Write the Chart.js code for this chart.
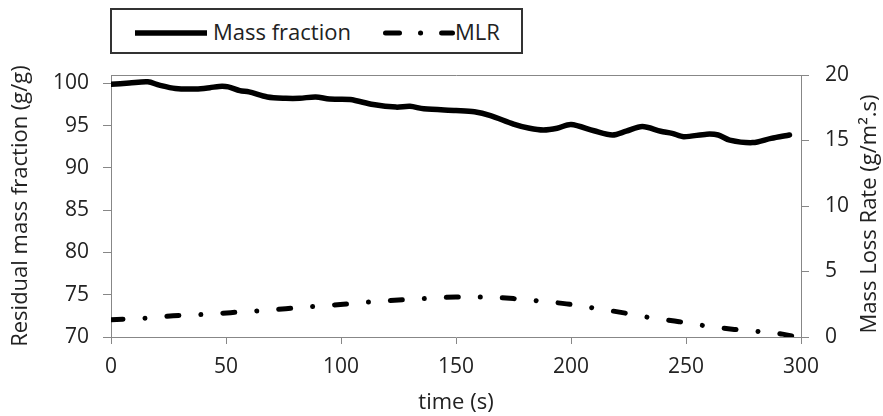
<!DOCTYPE html>
<html lang="en">
<head>
    <meta charset="UTF-8">
    <title>Mass fraction and MLR</title>
    <script src="https://cdn.jsdelivr.net/npm/chart.js"></script>
    <style>
        body { margin: 0; background: #fff; }
        .wrap { position: relative; width: 883px; height: 416px; }
        .legend {
            position: absolute; left: 110px; top: 8px; width: 413px; height: 46px;
            box-sizing: border-box; border: 2px solid #333; background: #fff;
            font-family: 'Open Sans', sans-serif; font-size: 22px; color: #222;
        }
        .legend svg, .legend span { position: absolute; }
        .legend span { top: 6px; line-height: 30px; }
    </style>
</head>
<body>
<div class="wrap">
    <canvas id="myChart"></canvas>
    <div class="legend">
        <svg style="left:23px; top:18px" width="72" height="10">
            <line x1="0" y1="5" x2="72" y2="5" stroke="#000" stroke-width="5.5"/>
        </svg>
        <span style="left:101px">Mass fraction</span>
        <svg style="left:271px; top:18px" width="72" height="10">
            <line x1="2.5" y1="5" x2="69.5" y2="5" stroke="#000" stroke-width="5"
                  stroke-linecap="round" stroke-dasharray="14 21 0.1 21"/>
        </svg>
        <span style="left:343px">MLR</span>
    </div>
</div>

<script>
// time (s) and residual mass fraction (g/g)
const massTime = [0, 8, 16, 21, 28, 37, 43, 47, 51, 56, 60, 68, 76, 82, 89, 95, 104, 114, 124, 130,
    136, 150, 158, 165, 175, 182, 188, 194, 200, 210, 218, 224, 231, 239, 244, 249, 259, 264, 269, 279,
    287, 295];
const massFrac = [99.9, 100.05, 100.2, 99.8, 99.4, 99.35, 99.5, 99.65, 99.6, 99.15, 99.0, 98.4, 98.25, 98.25, 98.4, 98.15, 98.1, 97.5, 97.2, 97.3,
    97.0, 96.8, 96.65, 96.2, 95.2, 94.7, 94.5, 94.7, 95.15, 94.4, 93.9, 94.35, 94.9, 94.35, 94.1, 93.7, 94.0, 93.9, 93.3, 93.0,
    93.5, 93.9];

// time (s) and mass loss rate (g/m2.s)
const mlrTime = [0, 15, 27, 40, 52, 64, 76, 88, 101, 113, 125, 138, 150, 162, 175, 186, 198, 211, 223, 235, 247, 259, 271, 283, 292, 298];
const mlrRate = [1.32, 1.44, 1.62, 1.72, 1.86, 2.0, 2.16, 2.33, 2.5, 2.68, 2.82, 2.95, 3.05, 3.05, 2.93, 2.75, 2.53, 2.18, 1.84, 1.46, 1.17, 0.84, 0.58, 0.4, 0.22, 0.0];

const xTicks = [0, 50, 100, 150, 200, 250, 300];
const leftTicks = [70, 75, 80, 85, 90, 95, 100];
const rightTicks = [0, 5, 10, 15, 20];

const rightTitleText = 'Mass Loss Rate (g/m\u00b2.s)';

const axisColor = '#878787';
const textColor = '#222';
const tickFont = { family: 'Open Sans', size: 21 };
const titleFont = { family: 'Open Sans', size: 22 };

// right axis title reads bottom to top like the left one
const rightTitle = {
    id: 'rightTitle',
    afterDraw(chart) {
        const ctx = chart.ctx;
        const s = chart.scales.y1;
        const area = chart.chartArea;
        ctx.save();
        ctx.translate(s.right - 13, (area.top + area.bottom) / 2 + 8);
        ctx.rotate(-Math.PI / 2);
        ctx.font = '22px "Open Sans"';
        ctx.fillStyle = textColor;
        ctx.textAlign = 'center';
        ctx.textBaseline = 'middle';
        ctx.fillText(rightTitleText, 0, 0);
        ctx.restore();
    }
};

function gerarGrafico() {
    const ctx = document.getElementById('myChart').getContext('2d');
    new Chart(ctx, {
        type: 'line',
        data: {
            datasets: [{
                label: 'Mass fraction',
                data: massTime.map((t, i) => ({ x: t, y: massFrac[i] })),
                xAxisID: 'x',
                yAxisID: 'y',
                borderColor: '#000',
                borderWidth: 5.5,
                borderCapStyle: 'round',
                pointRadius: 0,
                tension: 0.3,
                fill: false
            }, {
                label: 'MLR',
                data: mlrTime.map((t, i) => ({ x: t, y: mlrRate[i] })),
                xAxisID: 'x',
                yAxisID: 'y1',
                borderColor: '#000',
                borderWidth: 5,
                borderDash: [12, 22, 0.01, 22],
                borderCapStyle: 'round',
                pointRadius: 0,
                cubicInterpolationMode: 'monotone',
                fill: false
            }]
        },
        options: {
            responsive: true,
            maintainAspectRatio: false,
            animation: false,
            devicePixelRatio: 1,
            layout: { padding: { top: 67, left: 0, right: 0, bottom: 0 } },
            plugins: {
                legend: { display: false },
                tooltip: { enabled: false }
            },
            scales: {
                x: {
                    type: 'linear',
                    position: 'bottom',
                    min: 0,
                    max: 300,
                    afterBuildTicks: s => { s.ticks = xTicks.map(v => ({ value: v })); },
                    afterFit: s => { s.height = 79; },
                    ticks: { font: tickFont, color: textColor, padding: 10, maxRotation: 0, autoSkip: false },
                    grid: { drawOnChartArea: false, tickLength: 7, color: axisColor },
                    border: { color: axisColor },
                    title: { display: true, text: 'time (s)', font: titleFont, color: textColor, padding: { top: 0, bottom: 0 } }
                },
                x2: {
                    type: 'linear',
                    position: 'top',
                    min: 0,
                    max: 300,
                    ticks: { display: false },
                    grid: { display: false },
                    border: { color: axisColor }
                },
                y: {
                    position: 'left',
                    min: 70,
                    max: 101,
                    afterBuildTicks: s => { s.ticks = leftTicks.map(v => ({ value: v })); },
                    afterFit: s => { s.width = 111; },
                    ticks: { font: tickFont, color: textColor, padding: 14 },
                    grid: { drawOnChartArea: false, tickLength: 8, color: axisColor },
                    border: { color: axisColor },
                    title: { display: true, text: 'Residual mass fraction (g/g)', font: titleFont, color: textColor, padding: { top: 7.5, bottom: 0 } }
                },
                y1: {
                    position: 'right',
                    min: 0,
                    max: 20,
                    afterBuildTicks: s => { s.ticks = rightTicks.map(v => ({ value: v })); },
                    afterFit: s => { s.width = 82; },
                    ticks: { font: tickFont, color: textColor, padding: 16 },
                    grid: { drawOnChartArea: false, tickLength: 8, color: axisColor },
                    border: { color: axisColor }
                }
            }
        },
        plugins: [rightTitle]
    });
}

window.onload = function () {
    gerarGrafico();
};
</script>
</body>
</html>
